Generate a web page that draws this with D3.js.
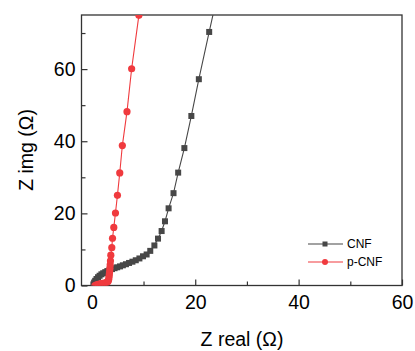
<!DOCTYPE html>
<html>
<head>
<meta charset="utf-8">
<script src="https://cdn.jsdelivr.net/npm/d3@7"></script>
<style>
  body { margin: 0; background: #fff; }
  svg { display: block; font-family: "Liberation Sans", Arial, sans-serif; }
</style>
</head>
<body>
<svg id="chart" width="415" height="351"></svg>
<script>
// CNF (Z real, Z img)
const cnfX = [0.3, 0.45, 0.65, 0.9, 1.2, 1.5, 1.85, 2.2, 2.6, 3.0, 3.45, 3.9, 4.4, 4.9, 5.45, 6.0, 6.6, 7.2, 7.85, 8.5, 9.2, 9.9, 10.6, 11.3, 12.1, 12.8, 13.5, 14.15, 14.85, 15.8, 16.7, 17.9, 19.25, 20.7, 22.7, 24.2];
const cnfY = [0.3, 0.8, 1.3, 1.8, 2.3, 2.7, 3.1, 3.4, 3.7, 4.0, 4.3, 4.55, 4.8, 5.05, 5.3, 5.6, 5.9, 6.25, 6.6, 7.0, 7.5, 8.1, 8.6, 9.6, 11.1, 13.0, 15.1, 17.8, 21.4, 25.6, 31.3, 38.1, 47.0, 57.2, 70.3, 80.0];
// p-CNF
const pcnfX = [0.6, 0.9, 1.2, 1.6, 2.0, 2.4, 2.75, 3.0, 3.15, 3.25, 3.3, 3.35, 3.4, 3.45, 3.5, 3.55, 3.6, 3.67, 3.86, 4.0, 4.25, 4.57, 4.95, 5.4, 5.9, 6.8, 7.7, 9.1];
const pcnfY = [0.0, 0.15, 0.3, 0.45, 0.6, 0.7, 0.8, 0.95, 1.2, 1.6, 2.1, 2.7, 3.3, 4.0, 4.8, 5.7, 6.8, 8.4, 10.5, 13.1, 16.1, 20.1, 25.0, 31.2, 38.8, 48.2, 60.1, 74.9];

const xTicks = [0, 20, 40, 60];
const xMinor = [10, 30, 50];
const yTicks = [0, 20, 40, 60];
const yMinor = [10, 30, 50, 70];

const margin = {left: 81.5, right: 13, top: 15, bottom: 65.5};
const W = 415, H = 351;
const svg = d3.select("#chart");

const x = d3.scaleLinear().domain([-2, 60]).range([margin.left, W - margin.right]);
const y = d3.scaleLinear().domain([0, 75]).range([H - margin.bottom, margin.top]);

const axisColor = "#333";
const fontSize = 19.5;

svg.append("clipPath").attr("id", "clip")
  .append("rect")
  .attr("x", margin.left).attr("y", margin.top)
  .attr("width", x.range()[1] - margin.left)
  .attr("height", y.range()[0] - margin.top);

// ticks (inward)
const xAxis = svg.append("g").attr("transform", `translate(0,${y(0)})`)
  .call(d3.axisBottom(x).tickValues(xTicks).tickSize(-6).tickPadding(10).tickFormat(d3.format("d")));
const xAxisMinor = svg.append("g").attr("transform", `translate(0,${y(0)})`)
  .call(d3.axisBottom(x).tickValues(xMinor).tickSize(-4).tickFormat(""));
const yAxis = svg.append("g").attr("transform", `translate(${margin.left},0)`)
  .call(d3.axisLeft(y).tickValues(yTicks).tickSize(-6).tickPadding(6).tickFormat(d3.format("d")));
const yAxisMinor = svg.append("g").attr("transform", `translate(${margin.left},0)`)
  .call(d3.axisLeft(y).tickValues(yMinor).tickSize(-4).tickFormat(""));

for (const g of [xAxis, xAxisMinor, yAxis, yAxisMinor]) {
  g.select(".domain").remove();
  g.selectAll(".tick line").attr("stroke", axisColor).attr("stroke-width", 1.2);
  g.selectAll(".tick text").attr("fill", "#000").style("font-size", fontSize + "px");
}
xAxis.selectAll(".tick text").attr("dy", "0.71em");

// frame
svg.append("rect")
  .attr("x", margin.left).attr("y", margin.top)
  .attr("width", x.range()[1] - margin.left)
  .attr("height", y.range()[0] - margin.top)
  .attr("fill", "none").attr("stroke", axisColor).attr("stroke-width", 1.3);

// series
const series = [
  {name: "CNF", xs: cnfX, ys: cnfY, color: "#474747", shape: "square"},
  {name: "p-CNF", xs: pcnfX, ys: pcnfY, color: "#f03a3e", shape: "circle"}
];

const plot = svg.append("g").attr("clip-path", "url(#clip)");
const line = d3.line().x(d => x(d[0])).y(d => y(d[1]));

function marker(g, shape, color, cx, cy) {
  if (shape === "square") {
    g.append("rect").attr("x", cx - 3).attr("y", cy - 3).attr("width", 6).attr("height", 6).attr("fill", color);
  } else {
    g.append("circle").attr("cx", cx).attr("cy", cy).attr("r", 3.6).attr("fill", color);
  }
}

for (const s of series) {
  const pts = s.xs.map((v, i) => [v, s.ys[i]]);
  plot.append("path").datum(pts).attr("d", line)
    .attr("fill", "none").attr("stroke", s.color).attr("stroke-width", 1.1);
  const mg = plot.append("g");
  pts.forEach(p => marker(mg, s.shape, s.color, x(p[0]), y(p[1])));
}

// legend
const lg = svg.append("g");
series.forEach((s, i) => {
  const ly = 244 + i * 18;
  lg.append("line").attr("x1", 308).attr("x2", 343).attr("y1", ly).attr("y2", ly)
    .attr("stroke", s.color).attr("stroke-width", 1.1);
  if (s.shape === "square") {
    lg.append("rect").attr("x", 322.5).attr("y", ly - 2.5).attr("width", 5).attr("height", 5).attr("fill", s.color);
  } else {
    lg.append("circle").attr("cx", 325).attr("cy", ly).attr("r", 3).attr("fill", s.color);
  }
  lg.append("text").attr("x", 347).attr("y", ly).attr("dy", "0.35em")
    .style("font-size", "12px").attr("fill", "#000").text(s.name);
});

// axis titles
svg.append("text").attr("x", 242).attr("y", 346)
  .attr("text-anchor", "middle").style("font-size", fontSize + "px").text("Z real (Ω)");
svg.append("text")
  .attr("transform", `translate(33,150) rotate(-90)`)
  .attr("text-anchor", "middle").style("font-size", fontSize + "px").text("Z img (Ω)");
</script>
</body>
</html>
